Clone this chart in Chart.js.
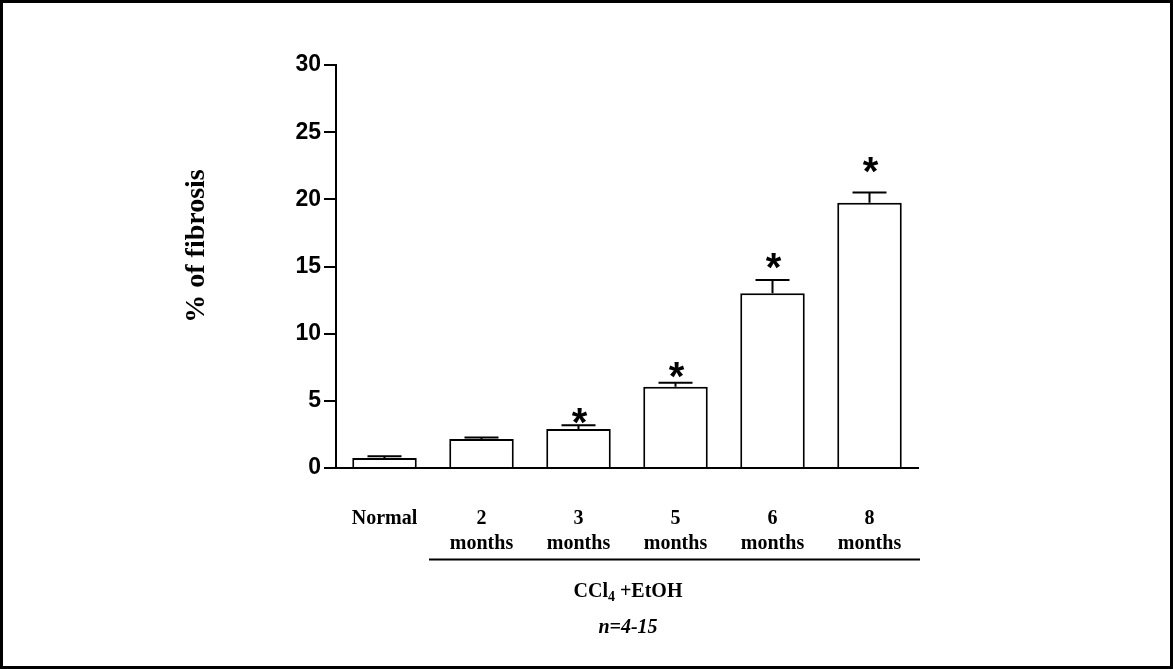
<!DOCTYPE html>
<html>
<head>
<meta charset="utf-8">
<title>% of fibrosis</title>
<script src="https://cdn.jsdelivr.net/npm/chart.js@4.4.1/dist/chart.umd.min.js"></script>
<style>
  html, body { margin: 0; padding: 0; background: #fff; }
  canvas { display: block; }
</style>
</head>
<body>
<canvas id="fibrosisChart" width="1173" height="669"></canvas>
<script>
// values
const groups = ['Normal', ['2', 'months'], ['3', 'months'], ['5', 'months'], ['6', 'months'], ['8', 'months']];
const fibrosisMean = [0.75, 2.15, 2.9, 6.05, 13.0, 19.75];
const fibrosisSem = [0.12, 0.12, 0.28, 0.3, 1.0, 0.75];
const starLevels = [null, null, 3.9, 7.27, 15.4, 22.55];
const yTicks = [0, 5, 10, 15, 20, 25, 30];
const yTitle = '% of fibrosis';
const treatmentLabel = ['CCl', '4', ' +EtOH'];
const sampleLabel = 'n=4-15';

const serif = '"Liberation Serif", "Times New Roman", serif';
const sans = '"Liberation Sans", Arial, sans-serif';

// error caps, asterisks, group line and the extra texts
const annotations = {
    id: 'annotations',
    afterDatasetsDraw(chart) {
        const ctx = chart.ctx;
        const y = chart.scales.y;
        const bars = chart.getDatasetMeta(0).data;

        ctx.save();
        ctx.strokeStyle = '#000';
        ctx.fillStyle = '#000';
        ctx.lineWidth = 2;
        bars.forEach((bar, i) => {
            const top = y.getPixelForValue(fibrosisMean[i]);
            const cap = y.getPixelForValue(fibrosisMean[i] + fibrosisSem[i]);
            ctx.beginPath();
            ctx.moveTo(bar.x, top);
            ctx.lineTo(bar.x, cap);
            ctx.moveTo(bar.x - 17, cap);
            ctx.lineTo(bar.x + 17, cap);
            ctx.stroke();

            if (starLevels[i] !== null) {
                ctx.font = 'bold 40px ' + sans;
                ctx.textAlign = 'center';
                ctx.textBaseline = 'alphabetic';
                // centre the glyph itself on the level
                const m = ctx.measureText('*');
                const shift = (m.actualBoundingBoxAscent - m.actualBoundingBoxDescent) / 2;
                ctx.fillText('*', bar.x + 1, y.getPixelForValue(starLevels[i]) + shift);
            }
        });
        ctx.restore();
    },
    afterDraw(chart) {
        const ctx = chart.ctx;
        const x = chart.scales.x;
        const area = chart.chartArea;

        ctx.save();
        ctx.fillStyle = '#000';
        ctx.strokeStyle = '#000';

        // y axis title
        ctx.save();
        ctx.translate(197, 246);
        ctx.rotate(-Math.PI / 2);
        ctx.font = 'bold 28px ' + serif;
        ctx.textAlign = 'center';
        ctx.textBaseline = 'middle';
        ctx.fillText(yTitle, 0, 0);
        ctx.restore();

        // line under the treated groups
        const lineY = 559.5;
        ctx.lineWidth = 2;
        ctx.beginPath();
        ctx.moveTo(x.getPixelForValue(0.5) - 4, lineY);
        ctx.lineTo(area.right + 2, lineY);
        ctx.stroke();

        // CCl4 +EtOH with subscript
        const cx = x.getPixelForValue(2.5) + 1;
        const mainFont = 'bold 20px ' + serif;
        const subFont = 'bold 14px ' + serif;
        ctx.font = mainFont;
        const w0 = ctx.measureText(treatmentLabel[0]).width;
        const w2 = ctx.measureText(treatmentLabel[2]).width;
        ctx.font = subFont;
        const w1 = ctx.measureText(treatmentLabel[1]).width;
        let tx = cx - (w0 + w1 + w2) / 2;
        ctx.textAlign = 'left';
        ctx.textBaseline = 'alphabetic';
        ctx.font = mainFont;
        ctx.fillText(treatmentLabel[0], tx, 597);
        tx += w0;
        ctx.font = subFont;
        ctx.fillText(treatmentLabel[1], tx, 601);
        tx += w1;
        ctx.font = mainFont;
        ctx.fillText(treatmentLabel[2], tx, 597);

        // sample size
        ctx.font = 'italic bold 20px ' + serif;
        ctx.textAlign = 'center';
        ctx.fillText(sampleLabel, cx, 633);

        // frame around the figure
        ctx.lineWidth = 3;
        ctx.strokeRect(1.5, 1.5, chart.width - 3, chart.height - 3);
        ctx.restore();
    }
};

const chartCanvas = document.getElementById('fibrosisChart');

new Chart(chartCanvas, {
    type: 'bar',
    data: {
        labels: groups,
        datasets: [{
            data: fibrosisMean,
            backgroundColor: '#fff',
            borderColor: '#000',
            borderWidth: 2,
            barPercentage: 0.665,
            categoryPercentage: 1
        }]
    },
    options: {
        responsive: false,
        animation: false,
        layout: {
            padding: { top: 65, right: 255, bottom: 0, left: 0 }
        },
        plugins: {
            legend: { display: false },
            tooltip: { enabled: false }
        },
        scales: {
            x: {
                offset: true,
                grid: { display: false },
                border: { display: true, color: '#000', width: 2 },
                ticks: {
                    color: '#000',
                    autoSkip: false,
                    maxRotation: 0,
                    padding: 30,
                    font: { family: serif, weight: 'bold', size: 20, lineHeight: 1.25 }
                },
                afterFit(scale) { scale.height = 201; }
            },
            y: {
                min: 0,
                max: 30,
                afterBuildTicks(scale) {
                    scale.ticks = yTicks.map(v => ({ value: v }));
                },
                grid: {
                    display: true,
                    drawOnChartArea: false,
                    drawTicks: true,
                    tickLength: 12,
                    color: '#000',
                    lineWidth: 2
                },
                border: { display: true, color: '#000', width: 2 },
                ticks: {
                    color: '#000',
                    padding: 3,
                    font: { family: sans, weight: 'bold', size: 23 }
                },
                afterFit(scale) { scale.width = 336; }
            }
        }
    },
    plugins: [annotations]
});
</script>
</body>
</html>
